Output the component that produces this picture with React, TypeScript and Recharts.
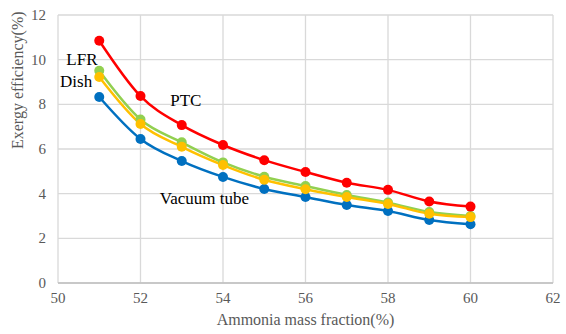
import { LineChart, Line, CartesianGrid, XAxis, YAxis, ReferenceDot } from "recharts";

const fractions = [51, 52, 53, 54, 55, 56, 57, 58, 59, 60];
const ptc = [10.85, 8.37, 7.07, 6.18, 5.5, 4.97, 4.49, 4.17, 3.65, 3.42];
const lfr = [9.5, 7.32, 6.3, 5.4, 4.76, 4.34, 3.94, 3.6, 3.18, 3.0];
const dish = [9.22, 7.12, 6.1, 5.28, 4.62, 4.2, 3.85, 3.54, 3.1, 2.95];
const vacuum = [8.33, 6.45, 5.46, 4.75, 4.21, 3.85, 3.49, 3.22, 2.82, 2.63];

const xTicks = [50, 52, 54, 56, 58, 60, 62];
const yTicks = [0, 2, 4, 6, 8, 10, 12];

const notes = [
  { text: "LFR", x: 50.58, y: 10.05 },
  { text: "Dish", x: 50.44, y: 9.05 },
  { text: "PTC", x: 53.1, y: 8.2 },
  { text: "Vacuum tube", x: 53.55, y: 3.8 },
];

const series = [
  { key: "vacuum", color: "#0070C0" },
  { key: "lfr", color: "#92D050" },
  { key: "dish", color: "#FFC000" },
  { key: "ptc", color: "#FF0000" },
];

const data = fractions.map((f, i) => ({
  fraction: f,
  ptc: ptc[i],
  lfr: lfr[i],
  dish: dish[i],
  vacuum: vacuum[i],
}));

const font = "'Liberation Serif', 'Times New Roman', serif";
const grey = "#595959";

function XTick({ x, y, payload }: any) {
  return (
    <text x={x} y={y + 12} textAnchor="middle" fill={grey} fontSize={15} fontFamily={font}>
      {payload.value}
    </text>
  );
}

function YTick({ x, y, payload }: any) {
  return (
    <text x={x - 4} y={y + 5} textAnchor="end" fill={grey} fontSize={15} fontFamily={font}>
      {payload.value}
    </text>
  );
}

export default function App() {
  return (
    <div style={{ position: "absolute", left: 0, top: 0, width: 566, height: 334, background: "#fff", fontFamily: font }}>
      <style>{`svg text { font-family: ${font} !important; }`}</style>
      <LineChart width={566} height={334} data={data} margin={{ top: 15, right: 13, left: 0, bottom: 0 }}>
        <CartesianGrid stroke="#d9d9d9" strokeWidth={1.3} />
        <XAxis
          dataKey="fraction"
          type="number"
          domain={[50, 62]}
          ticks={xTicks}
          tickLine={false}
          axisLine={{ stroke: "#bfbfbf", strokeWidth: 1.3 }}
          tick={<XTick />}
          height={51}
          label={{ value: "Ammonia mass fraction(%)", position: "insideBottom", offset: 9, fill: grey, fontSize: 16 }}
        />
        <YAxis
          type="number"
          domain={[0, 12]}
          ticks={yTicks}
          tickLine={false}
          axisLine={false}
          width={58}
          tick={<YTick />}
          label={{ value: "Exergy efficiency(%)", angle: -90, position: "insideLeft", offset: 17, fill: grey, fontSize: 16 }}
        />
        {series.map(s => (
          <Line
            key={s.key}
            type="monotone"
            dataKey={s.key}
            stroke={s.color}
            strokeWidth={2.5}
            dot={{ r: 5, fill: s.color, stroke: s.color, strokeWidth: 0 }}
            activeDot={false}
            isAnimationActive={false}
          />
        ))}
        {notes.map(n => (
          <ReferenceDot
            key={n.text}
            x={n.x}
            y={n.y}
            r={0}
            fill="none"
            stroke="none"
            label={{ value: n.text, position: "center", fill: "#000", fontSize: 17 }}
          />
        ))}
      </LineChart>
    </div>
  );
}
